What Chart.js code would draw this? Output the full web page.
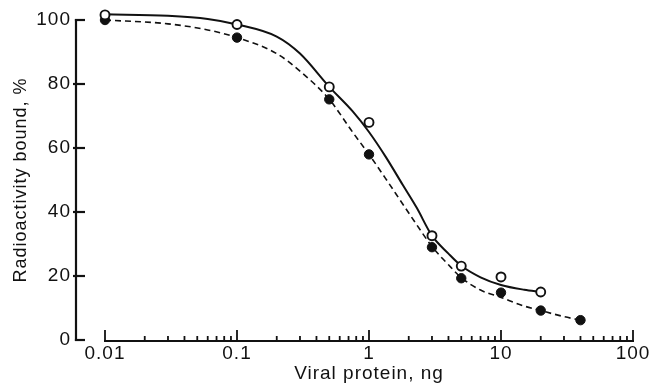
<!DOCTYPE html>
<html>
<head>
<meta charset="utf-8">
<script src="https://cdn.jsdelivr.net/npm/chart.js@4.4.1/dist/chart.umd.min.js"></script>
<style>
  html, body { margin: 0; padding: 0; background: #fff; }
</style>
</head>
<body>
<canvas id="chart" width="654" height="386"></canvas>
<script>
// measured points
const openX = [0.01, 0.1, 0.5, 1, 3, 5, 10, 20];
const openY = [101.6, 98.6, 79.1, 68, 32.6, 23.1, 19.7, 15];
const filledX = [0.01, 0.1, 0.5, 1, 3, 5, 10, 20, 40];
const filledY = [100, 94.5, 75.2, 58, 29, 19.3, 14.8, 9.2, 6.2];

// fitted curves
const solidX = [0.01, 0.03, 0.06, 0.1, 0.2, 0.3, 0.5, 0.75, 1, 1.35, 1.8, 2.3, 3, 4, 5, 7, 10, 15, 20];
const solidY = [101.8, 101.3, 100.3, 98.6, 94.8, 89.5, 79.1, 71.5, 65, 57, 48.5, 41.3, 32.6, 27, 23.2, 19.6, 17.2, 15.7, 15];
const dashedX = [0.01, 0.03, 0.06, 0.1, 0.2, 0.3, 0.5, 0.75, 1, 1.36, 1.8, 2.3, 3, 4, 5, 7, 10, 15, 20, 30, 40];
const dashedY = [100, 98.8, 96.9, 94.5, 89.5, 84, 75.2, 65, 58, 50, 42.5, 36, 29.2, 23.5, 19.5, 15.6, 13.3, 10.6, 9.2, 7.3, 6.2];

// axes
const xMajor = [0.01, 0.1, 1, 10, 100];
const xLabels = ["0.01", "0.1", "1", "10", "100"];
const xMinor = [];
for (let d = 0.01; d < 100; d *= 10) {
  for (let m = 2; m <= 9; m++) xMinor.push(+(d * m).toPrecision(3));
}
const yTicks = [0, 20, 40, 60, 80, 100];

const INK = "#111";
const FONT = "'Liberation Sans', Arial, Helvetica, sans-serif";
const SPACING = "1px";

const pts = (xs, ys) => xs.map((x, i) => ({ x, y: ys[i] }));

const spacingPlugin = {
  id: "spacing",
  beforeLayout(chart) { chart.ctx.letterSpacing = SPACING; },
  beforeDraw(chart) { chart.ctx.letterSpacing = SPACING; }
};

// paper-style axes: detached y axis, inward ticks
const axesPlugin = {
  id: "paperAxes",
  beforeDatasetsDraw(chart) {
    const { ctx, scales: { x, y } } = chart;
    const ax = x.getPixelForValue(0.01) - 29;
    const y0 = y.getPixelForValue(0);
    const y100 = y.getPixelForValue(100);
    ctx.save();
    ctx.strokeStyle = INK;
    ctx.lineWidth = 2.2;

    ctx.beginPath();
    ctx.moveTo(ax, y0 + 1.1);
    ctx.lineTo(ax, y100 - 1.1);
    ctx.stroke();
    yTicks.forEach(v => {
      const py = y.getPixelForValue(v);
      const start = (v === 0 || v === 100) ? ax - 1.1 : ax - 3;
      ctx.beginPath();
      ctx.moveTo(start, py);
      ctx.lineTo(ax + 9, py);
      ctx.stroke();
    });

    const base = y0 + 1;
    ctx.beginPath();
    ctx.moveTo(x.getPixelForValue(0.01) - 1, base);
    ctx.lineTo(x.getPixelForValue(100) + 1, base);
    ctx.stroke();
    ctx.lineWidth = 1.8;
    xMajor.forEach(v => {
      const px = x.getPixelForValue(v);
      ctx.beginPath();
      ctx.moveTo(px, base);
      ctx.lineTo(px, base - 11);
      ctx.stroke();
    });
    xMinor.forEach(v => {
      const px = x.getPixelForValue(v);
      ctx.beginPath();
      ctx.moveTo(px, base);
      ctx.lineTo(px, base - 5);
      ctx.stroke();
    });
    ctx.restore();
  }
};

new Chart(document.getElementById("chart"), {
  type: "scatter",
  data: {
    datasets: [
      {
        label: "open",
        data: pts(openX, openY),
        showLine: false,
        pointRadius: 4.5,
        pointBorderWidth: 1.9,
        pointBackgroundColor: "#fff",
        pointBorderColor: INK,
        clip: false
      },
      {
        label: "filled",
        data: pts(filledX, filledY),
        showLine: false,
        pointRadius: 4.7,
        pointBorderWidth: 1,
        pointBackgroundColor: INK,
        pointBorderColor: INK,
        clip: false
      },
      {
        label: "solid fit",
        data: pts(solidX, solidY),
        showLine: true,
        pointRadius: 0,
        borderColor: INK,
        borderWidth: 2,
        cubicInterpolationMode: "monotone",
        clip: false
      },
      {
        label: "dashed fit",
        data: pts(dashedX, dashedY),
        showLine: true,
        pointRadius: 0,
        borderColor: INK,
        borderWidth: 1.6,
        borderDash: [6, 4],
        cubicInterpolationMode: "monotone",
        clip: false
      }
    ]
  },
  options: {
    responsive: false,
    animation: false,
    events: [],
    layout: { padding: { left: 0, right: 21, top: 20, bottom: 0 } },
    plugins: { legend: { display: false }, tooltip: { enabled: false } },
    scales: {
      x: {
        type: "logarithmic",
        min: 0.01,
        max: 100,
        grid: { display: false, drawTicks: false },
        border: { display: false },
        afterBuildTicks: s => { s.ticks = xMajor.map(v => ({ value: v })); },
        afterFit: s => { s.height = 46; },
        ticks: {
          autoSkip: false,
          maxRotation: 0,
          padding: 2,
          color: INK,
          font: { family: FONT, size: 19 },
          callback: v => {
            const i = xMajor.indexOf(v);
            return i >= 0 ? xLabels[i] : "";
          }
        },
        title: {
          display: true,
          text: "Viral protein, ng",
          color: INK,
          font: { family: FONT, size: 19 },
          padding: { top: 0, bottom: 1 }
        }
      },
      y: {
        min: 0,
        max: 100,
        // invisible tick length keeps labels left of the detached axis
        grid: { display: false, drawTicks: true, tickLength: 34 },
        border: { display: false },
        afterBuildTicks: s => { s.ticks = yTicks.map(v => ({ value: v })); },
        afterFit: s => { s.width = 105; },
        ticks: {
          padding: 0,
          color: INK,
          font: { family: FONT, size: 19 }
        },
        title: {
          display: true,
          text: "Radioactivity bound, %",
          color: INK,
          font: { family: FONT, size: 18 },
          padding: { top: 10, bottom: 0 }
        }
      }
    }
  },
  plugins: [spacingPlugin, axesPlugin]
});
</script>
</body>
</html>
